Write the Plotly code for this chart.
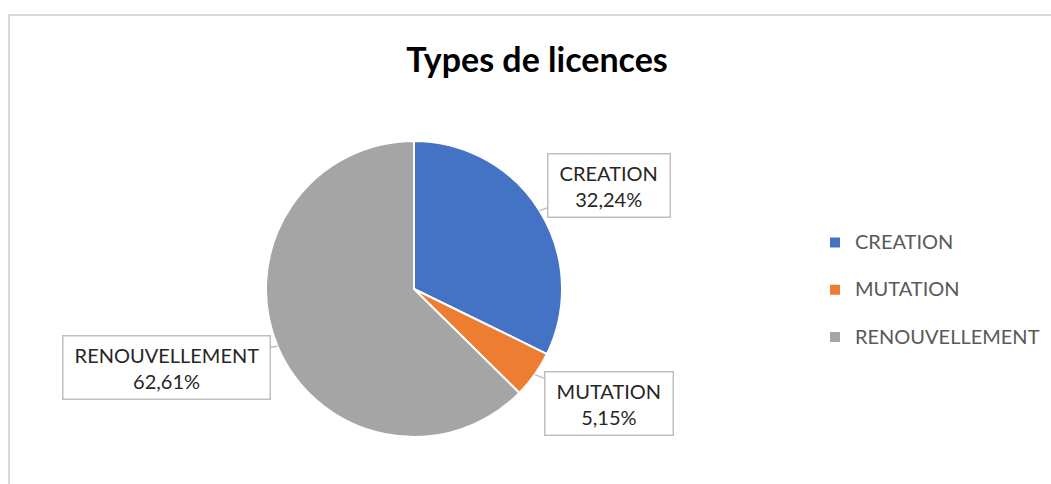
import math
import plotly.graph_objects as go

# data
categories = ["CREATION", "MUTATION", "RENOUVELLEMENT"]
shares = [32.24, 5.15, 62.61]
colors = ["#4472C4", "#ED7D31", "#A5A5A5"]

W, H = 1051, 484
CX, CY, R = 414, 289, 148  # pie centre / radius in px
FONT = "Lato"

# where each label box sits (px offset from its slice edge point)
box_offsets = [(69, -25), (74, 29), (-111, 21)]

# legend: 17px line height for spacing, 20px visible text
legend_labels = [f"<span style='font-size:20px'>{c}</span><br>\u00a0" for c in categories]

fig = go.Figure()
fig.add_trace(go.Pie(
    labels=legend_labels,
    values=shares,
    marker=dict(colors=colors, line=dict(color="white", width=2)),
    sort=False,
    direction="clockwise",
    rotation=0,
    textinfo="none",
    hoverinfo="percent",
    domain=dict(x=[(CX - R) / W, (CX + R) / W], y=[(H - CY - R) / H, (H - CY + R) / H]),
))

# callout labels, tip at each slice's mid angle on the rim
total = sum(shares)
cum = 0.0
for cat, val, (ax, ay) in zip(categories, shares, box_offsets):
    mid = (cum + val / 2) / total * 2 * math.pi
    cum += val
    tx = CX + R * math.sin(mid)
    ty = CY - R * math.cos(mid)
    pct = f"{val:.2f}".replace(".", ",") + "%"
    fig.add_annotation(
        x=tx / W, y=1 - ty / H, xref="paper", yref="paper",
        ax=ax, ay=ay, axref="pixel", ayref="pixel",
        text=f"\u00a0{cat}\u00a0<br>{pct}",
        showarrow=True, arrowhead=0, arrowwidth=1.5, arrowcolor="#BFBFBF", standoff=0,
        bgcolor="white", bordercolor="#BFBFBF", borderwidth=1.5, borderpad=6,
        font=dict(family=FONT, size=20, color="#262626"),
        align="center",
    )

# chart-area border (only top and left edges visible)
fig.add_shape(type="rect", xref="paper", yref="paper",
              x0=9 / W, x1=1.05, y0=-0.05, y1=1 - 15 / H,
              line=dict(color="#D9D9D9", width=2), fillcolor="rgba(0,0,0,0)", layer="below")

fig.update_layout(
    width=W, height=H,
    margin=dict(l=0, r=0, t=0, b=0),
    paper_bgcolor="white", plot_bgcolor="white",
    title=dict(text="<b>Types de licences</b>", x=537 / W, y=1 - 60 / H,
               xanchor="center", yanchor="middle",
               font=dict(family=FONT, size=34, color="#000000")),
    legend=dict(x=815 / W, y=1 - 225 / H, xanchor="left", yanchor="top",
                font=dict(family=FONT, size=17, color="#595959"),
                valign="top", bgcolor="rgba(0,0,0,0)"),
    showlegend=True,
)

fig.write_html("out.html", config={"displayModeBar": False},
               post_script="document.body.style.margin='0px';")
